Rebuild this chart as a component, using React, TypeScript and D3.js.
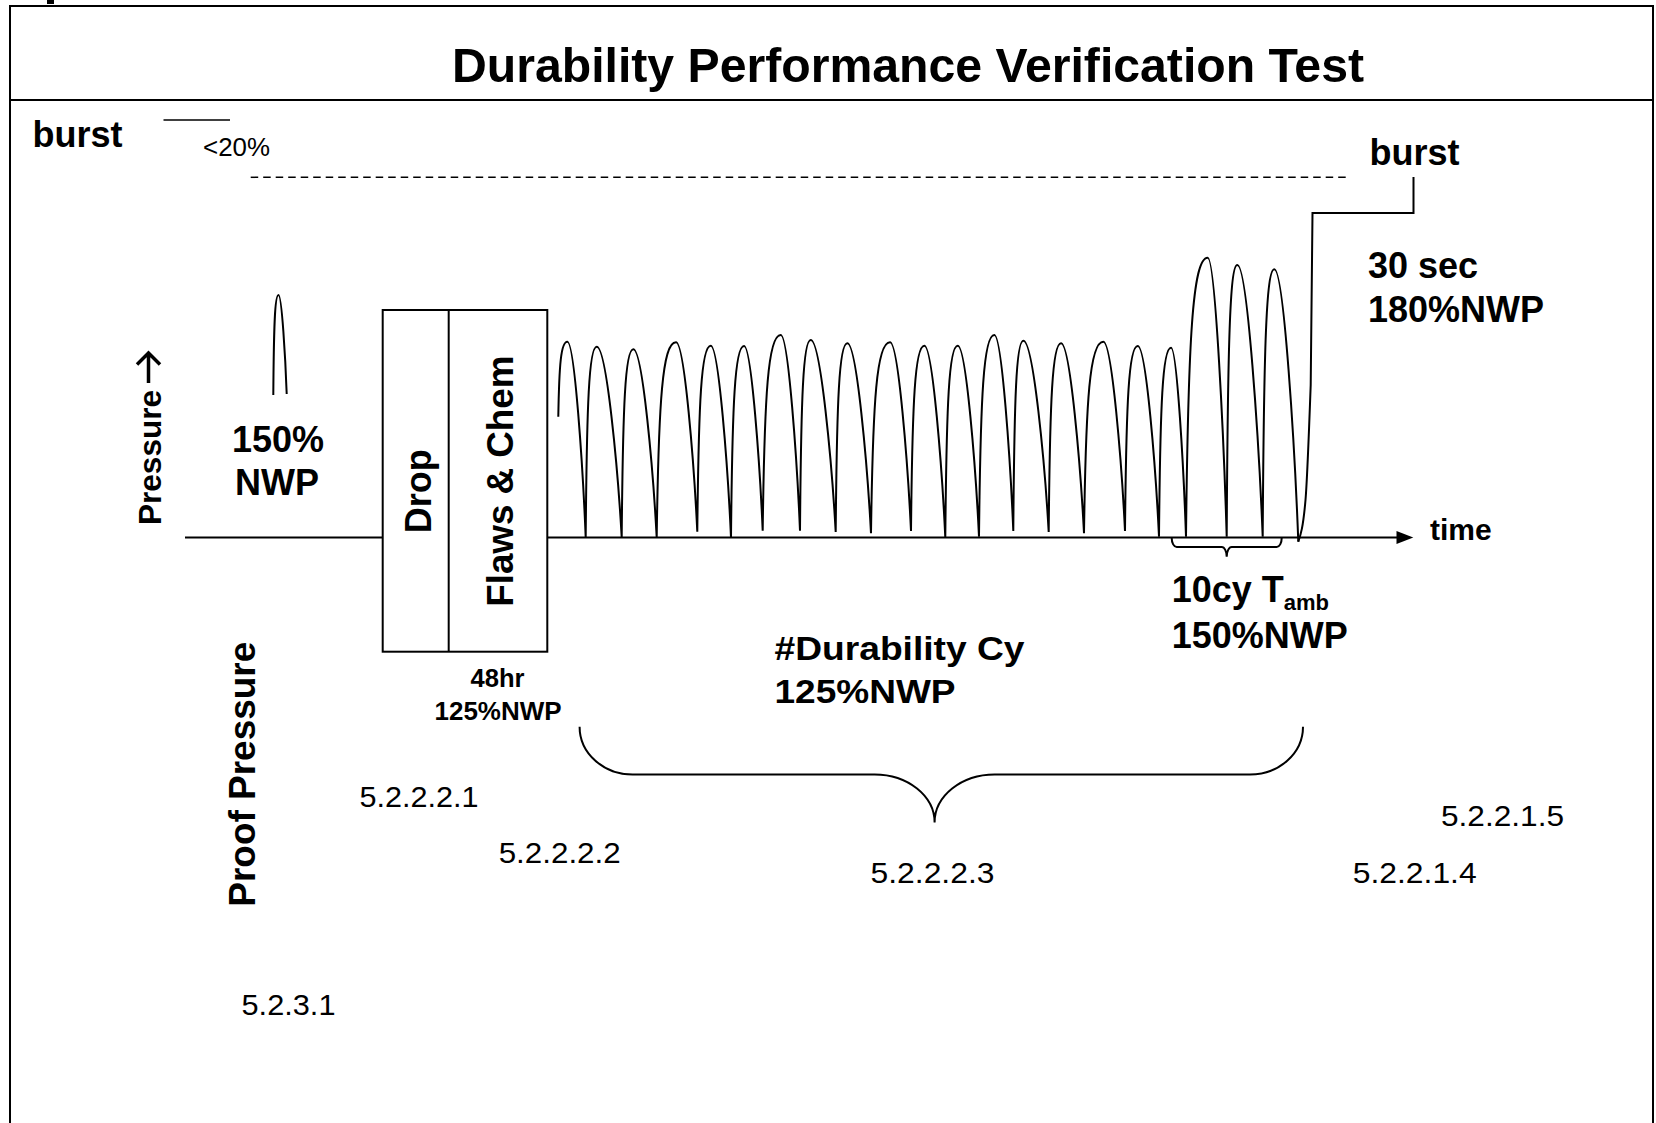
import React from "react";
import * as d3 from "d3";

// schematic units: time along the axis, pressure above the axis line
const startPoint: [number, number] = [373.3, 120.8];
const peakTime = [382.3, 411.7, 448.3, 491, 525.7, 559, 595.7, 625.7, 662.3, 705, 739.3, 772.7, 809.3, 838.3, 876, 918.3, 952.7, 986, 1022.7, 1052.3, 1089.3];
const peakPressure = [195.8, 190.8, 188.2, 195.2, 191.8, 191.5, 202.5, 197.5, 194.2, 195.2, 191.8, 191.8, 202.5, 196.8, 194.2, 195.8, 191.5, 189.8, 279.8, 272.5, 268.2];
const valleyTime = [400.7, 436.7, 471.7, 512.3, 546, 577.7, 615, 650.7, 686, 726, 760.3, 794, 828.3, 863.7, 899, 940, 974, 1001, 1041.7, 1077.7, 1113.3];
const valleyPressure = [0, 0, 0, 5.8, 0, 6.8, 6.8, 5.5, 4.2, 6.5, 0, 0.8, 6.5, 5.5, 4.2, 6.5, 0.8, 0.8, 0.8, 0.8, -4.2];

const proofTime = [88.3, 93.5, 101.7];
const proofPressure = [142.5, 242.5, 143.5];

const riseTime = [1113.3, 1120.5, 1125.7];
const risePressure = [-4.2, 37.5, 152.5];
const holdTime = [1125.7, 1127.5, 1228.5, 1228.5];
const holdPressure = [152.5, 324.5, 324.5, 360.5];

const burstLevel = 360.2;
const burstDashTime = [65.7, 1164.6];

const boxTime = [197.7, 263.7, 362.3];
const boxPressure = [227.5, -114.2];

const W = 1656, H = 1123;
const font = "'Liberation Sans', Arial, sans-serif";

function brace(x0: number, x1: number, xm: number, yTop: number, yMid: number, yTip: number, rx: number, rx2: number) {
  const ry = yMid - yTop, ry2 = yTip - yMid;
  return `M${x0},${yTop} A${rx},${ry} 0 0 0 ${x0 + rx},${yMid} L${xm - rx2},${yMid} A${rx2},${ry2} 0 0 1 ${xm},${yTip} A${rx2},${ry2} 0 0 1 ${xm + rx2},${yMid} L${x1 - rx},${yMid} A${rx},${ry} 0 0 0 ${x1},${yTop}`;
}

// steep rise with a rounded cap, then a near-straight fall into a sharp valley
function wave(pts: [number, number][]) {
  const p = d3.path();
  p.moveTo(pts[0][0], pts[0][1]);
  for (let i = 1; i < pts.length; i++) {
    const [ax, ay] = pts[i - 1];
    const [bx, by] = pts[i];
    const dx = bx - ax, dy = by - ay;
    if (dy < 0) {
      p.bezierCurveTo(ax + 0.1 * dx, ay + 0.7 * dy, bx - 0.7 * dx, by, bx, by);
    } else {
      p.bezierCurveTo(ax + 0.4 * dx, ay, bx - 0.15 * dx, by - 0.35 * dy, bx, by);
    }
  }
  return p.toString();
}

export default function App() {
  const x = d3.scaleLinear().domain([0, 1228]).range([185, 1413]);
  const y = d3.scaleLinear().domain([0, 400]).range([537.5, 137.5]);

  const curve = d3.line<[number, number]>().x(d => x(d[0])).y(d => y(d[1])).curve(d3.curveMonotoneX);
  const straight = d3.line<[number, number]>().x(d => x(d[0])).y(d => y(d[1]));

  const cycles: [number, number][] = [[x(startPoint[0]), y(startPoint[1])]];
  peakTime.forEach((t, i) => {
    cycles.push([x(t), y(peakPressure[i])]);
    cycles.push([x(valleyTime[i]), y(valleyPressure[i])]);
  });
  const spike = proofTime.map((t, i) => [x(t), y(proofPressure[i])] as [number, number]);
  const rise = riseTime.map((t, i) => [t, risePressure[i]] as [number, number]);
  const hold = holdTime.map((t, i) => [t, holdPressure[i]] as [number, number]);

  const bold = { fontFamily: font, fontWeight: 700 } as const;
  const reg = { fontFamily: font } as const;
  const stroke = { fill: "none", stroke: "#000", strokeWidth: 2 };

  const bx0 = x(boxTime[0]), bx1 = x(boxTime[1]), bx2 = x(boxTime[2]);
  const by0 = y(boxPressure[0]), by1 = y(boxPressure[1]);

  return (
    <svg width={W} height={H} style={{ position: "absolute", left: 0, top: 0, background: "#fff" }}>
      <rect x={0} y={0} width={W} height={H} fill="#fff" />
      <rect x={47} y={0} width={7} height={4} fill="#000" />
      <rect x={10} y={6} width={1643} height={1130} {...stroke} />
      <line x1={10} x2={1653} y1={100} y2={100} stroke="#000" strokeWidth={2} />
      <text x={452} y={82} fontSize={48} textLength={912} lengthAdjust="spacingAndGlyphs" {...bold}>Durability Performance Verification Test</text>

      {/* burst annotations */}
      <text x={32.5} y={146.7} fontSize={36} {...bold}>burst</text>
      <line x1={x(-21.5)} x2={x(45)} y1={y(417.5)} y2={y(417.5)} stroke="#000" strokeWidth={1.5} />
      <text x={203} y={156} fontSize={26} textLength={67} lengthAdjust="spacingAndGlyphs" {...reg}>&lt;20%</text>
      <line x1={x(burstDashTime[0])} x2={x(burstDashTime[1])} y1={y(burstLevel)} y2={y(burstLevel)} stroke="#000" strokeWidth={1.5} strokeDasharray="7.5 5" />
      <text x={1369.5} y={165} fontSize={36} {...bold}>burst</text>
      <text x={1368} y={278} fontSize={36} {...bold}>30 sec</text>
      <text x={1368} y={322} fontSize={36} {...bold}>180%NWP</text>

      {/* time axis */}
      <line x1={x(0)} x2={1397} y1={y(0)} y2={y(0)} stroke="#000" strokeWidth={2} />
      <path d={`M${x(1228.3)},${y(0)} L1396.5,${y(0) - 6.5} L1396.5,${y(0) + 6.5} Z`} fill="#000" />
      <text x={1430} y={540} fontSize={30} {...bold}>time</text>
      <text transform="translate(161,525) rotate(-90)" fontSize={31} textLength={135} lengthAdjust="spacingAndGlyphs" {...bold}>Pressure</text>
      <path d="M148.5,383 L148.5,353 M137,364.5 L148.5,353 L160,364.5" fill="none" stroke="#000" strokeWidth={3.5} strokeLinejoin="miter" />

      {/* proof pressure */}
      <path d={wave(spike)} {...stroke} />
      <text x={278} y={451.7} fontSize={36} textAnchor="middle" {...bold}>150%</text>
      <text x={277} y={495} fontSize={36} textAnchor="middle" {...bold}>NWP</text>
      <text transform="translate(254.5,906.7) rotate(-90)" fontSize={36} textLength={265} lengthAdjust="spacingAndGlyphs" {...bold}>Proof Pressure</text>

      {/* drop + flaws box */}
      <rect x={bx0} y={by0} width={bx2 - bx0} height={by1 - by0} fill="#fff" stroke="#000" strokeWidth={2} />
      <line x1={bx1} x2={bx1} y1={by0} y2={by1} stroke="#000" strokeWidth={2} />
      <text transform="translate(430.5,533.3) rotate(-90)" fontSize={36} textLength={84} lengthAdjust="spacingAndGlyphs" {...bold}>Drop</text>
      <text transform="translate(513.3,606.7) rotate(-90)" fontSize={36} textLength={251} lengthAdjust="spacingAndGlyphs" {...bold}>Flaws &amp; Chem</text>
      <text x={470.5} y={686.7} fontSize={25} textLength={54} lengthAdjust="spacingAndGlyphs" {...bold}>48hr</text>
      <text x={434.5} y={720} fontSize={25} textLength={127} lengthAdjust="spacingAndGlyphs" {...bold}>125%NWP</text>

      {/* pressure cycles */}
      <path d={wave(cycles)} {...stroke} />
      <path d={curve(rise) || ""} {...stroke} />
      <path d={straight(hold) || ""} {...stroke} />

      {/* braces */}
      <path d={brace(1171.7, 1281.7, 1226.7, 538, 547, 556.7, 5, 5)} {...stroke} />
      <text y={602} fontSize={36} {...bold}>
        <tspan x={1171.7}>10cy T</tspan>
        <tspan fontSize={22} dy={8}>amb</tspan>
      </text>
      <text x={1171.7} y={648} fontSize={36} {...bold}>150%NWP</text>

      <path d={brace(579.6, 1303, 934.6, 726.7, 774.5, 822.5, 53, 60)} {...stroke} />
      <text x={774.5} y={660} fontSize={34} textLength={250} lengthAdjust="spacingAndGlyphs" {...bold}>#Durability Cy</text>
      <text x={774.5} y={703} fontSize={34} textLength={181} lengthAdjust="spacingAndGlyphs" {...bold}>125%NWP</text>

      {/* section references */}
      <text x={359.4} y={806.7} fontSize={30} textLength={119} lengthAdjust="spacingAndGlyphs" {...reg}>5.2.2.2.1</text>
      <text x={498.7} y={863} fontSize={30} textLength={122} lengthAdjust="spacingAndGlyphs" {...reg}>5.2.2.2.2</text>
      <text x={870.5} y={882.7} fontSize={30} textLength={124} lengthAdjust="spacingAndGlyphs" {...reg}>5.2.2.2.3</text>
      <text x={1441} y={825.7} fontSize={30} textLength={123} lengthAdjust="spacingAndGlyphs" {...reg}>5.2.2.1.5</text>
      <text x={1352.7} y={882.7} fontSize={30} textLength={124} lengthAdjust="spacingAndGlyphs" {...reg}>5.2.2.1.4</text>
      <text x={241.5} y={1015} fontSize={30} textLength={94} lengthAdjust="spacingAndGlyphs" {...reg}>5.2.3.1</text>
    </svg>
  );
}
